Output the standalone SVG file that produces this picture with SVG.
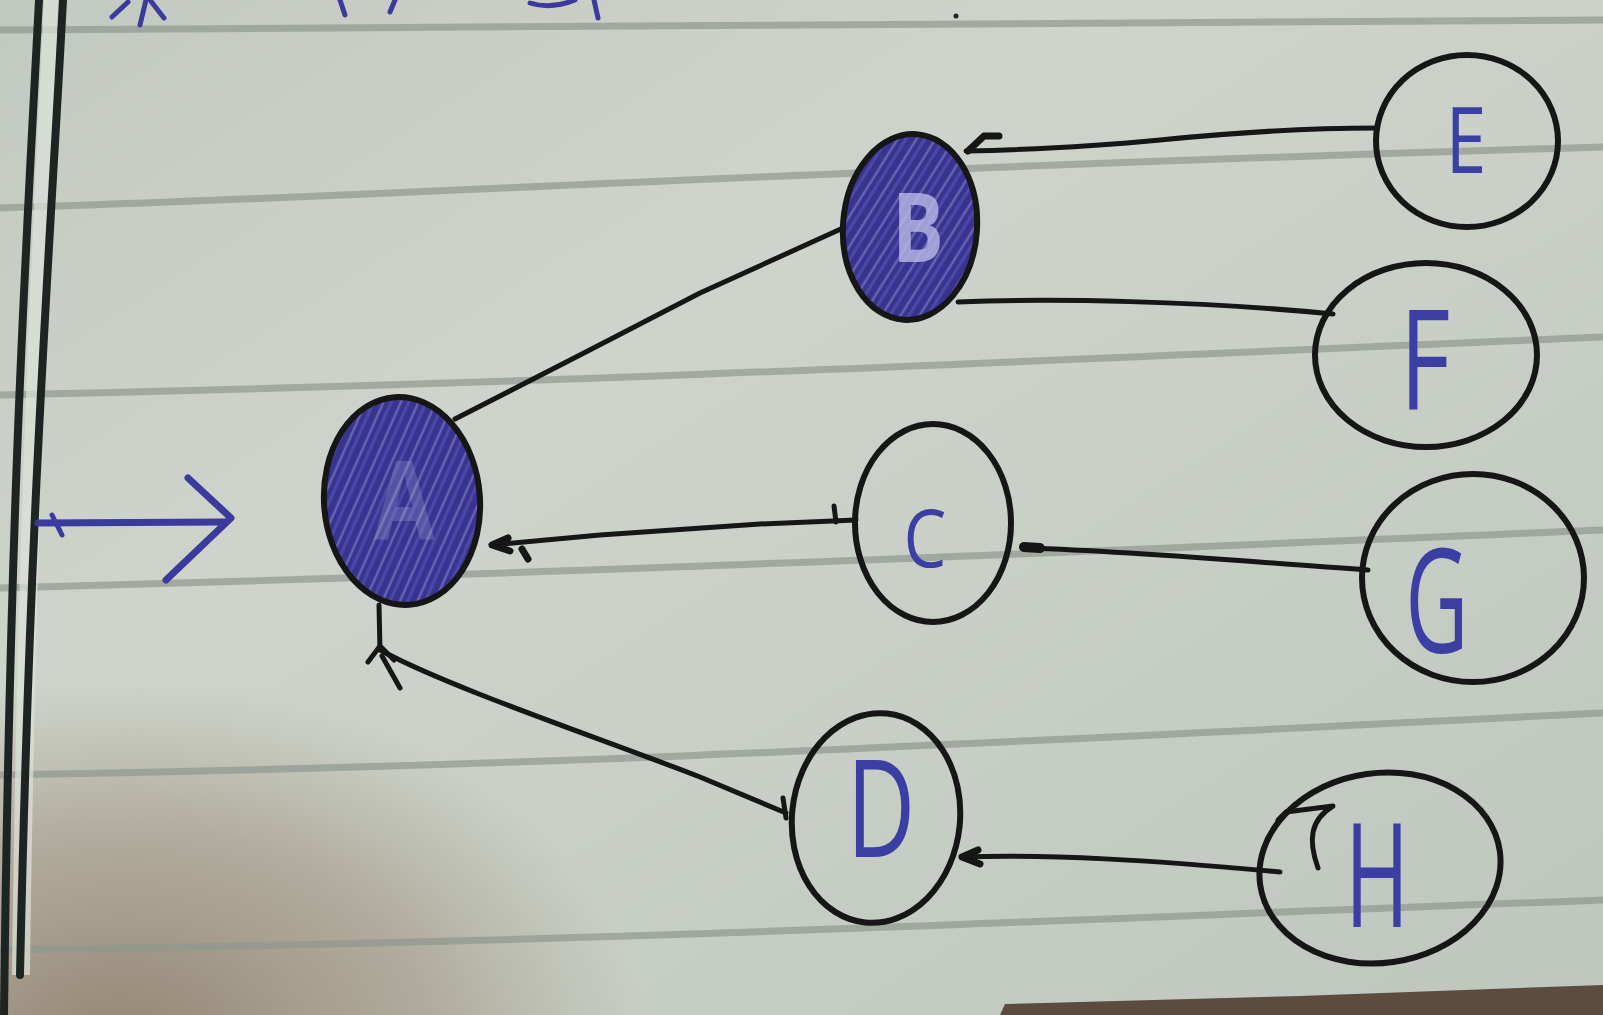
<svg xmlns="http://www.w3.org/2000/svg" width="1603" height="1015" viewBox="0 0 1603 1015">
  <defs>
    <linearGradient id="paper" x1="0" y1="0" x2="1" y2="1">
      <stop offset="0" stop-color="#c2c9c0"/>
      <stop offset="0.35" stop-color="#ced4cb"/>
      <stop offset="0.7" stop-color="#c6cdc4"/>
      <stop offset="1" stop-color="#bfc6bd"/>
    </linearGradient>
    <radialGradient id="shadow" cx="0.5" cy="0.5" r="0.5">
      <stop offset="0" stop-color="#7d6650" stop-opacity="0.7"/>
      <stop offset="0.6" stop-color="#8c7660" stop-opacity="0.4"/>
      <stop offset="1" stop-color="#9a8670" stop-opacity="0"/>
    </radialGradient>
    <pattern id="hatch" width="16" height="16" patternUnits="userSpaceOnUse" patternTransform="rotate(-62)">
      <rect width="16" height="16" fill="#37338f"/>
      <line x1="0" y1="5" x2="16" y2="5" stroke="#8d8ad0" stroke-width="2.5" opacity="0.55"/>
      <line x1="0" y1="12" x2="16" y2="12" stroke="#5c58b6" stroke-width="3" opacity="0.6"/>
    </pattern>
    <style>
      .rule { fill: none; stroke: #8e978f; stroke-width: 7; opacity: 0.7; }
      .margin { fill: none; stroke: #1c2522; stroke-width: 8; stroke-linecap: round; }
      .node { fill: none; stroke: #161616; stroke-width: 6; }
      .filled { fill: url(#hatch); stroke: #161616; stroke-width: 6; }
      .edge { fill: none; stroke: #161616; stroke-width: 5; stroke-linecap: round; stroke-linejoin: round; }
      .pen { fill: none; stroke: #3a3b9c; stroke-width: 7; stroke-linecap: round; stroke-linejoin: round; }
      .lbl { font-family: "Open Sans", "Liberation Sans", sans-serif; font-weight: 400; fill: #3b3fa3; text-anchor: middle; }
      .pale { font-family: "Open Sans", "Liberation Sans", sans-serif; font-weight: 700; fill: #c3c2ec; text-anchor: middle; }
    </style>
  </defs>

  <!-- paper -->
  <rect x="0" y="0" width="1603" height="1015" fill="url(#paper)"/>
  <ellipse cx="120" cy="1040" rx="520" ry="360" fill="url(#shadow)"/>
  <path d="M1000,1015 L1005,1004 L1300,996 L1603,985 L1603,1015 Z" fill="#5c4c3e"/>

  <!-- ruled lines -->
  <g id="rules">
    <path class="rule" d="M0,30 L1603,20"/>
    <path class="rule" d="M0,208 C400,196 800,170 1603,147"/>
    <path class="rule" d="M0,395 C600,382 1000,362 1603,337"/>
    <path class="rule" d="M0,588 C600,572 1000,555 1603,530"/>
    <path class="rule" d="M0,775 C600,765 1000,742 1603,713"/>
    <path class="rule" d="M0,950 C600,942 1000,922 1603,900"/>
  </g>

  <!-- margin -->
  <g id="margin">
    <path d="M44,0 C32,250 18,500 12,975 L30,975 C36,500 50,250 58,0 Z" fill="#dde2da" opacity="0.7"/>
    <path class="margin" d="M39,0 C26,250 10,500 4,1015"/>
    <path class="margin" d="M63,0 C50,250 30,500 20,975"/>
  </g>

  <!-- fragments from the line above -->
  <g id="fragments" class="pen" style="stroke-width:5">
    <path d="M112,17 L128,2"/>
    <path d="M140,25 L146,0"/>
    <path d="M150,0 L164,18"/>
    <path d="M345,15 L340,0"/>
    <path d="M390,12 L395,0"/>
    <path d="M530,3 C545,8 560,6 575,0"/>
    <path d="M598,18 L594,0"/>
  </g>
  <circle cx="956" cy="16" r="2.5" fill="#222"/>

  <!-- connectors -->
  <g id="connectors">
    <!-- entry arrow -->
    <path class="pen" d="M38,523 L226,522"/>
    <path class="pen" d="M188,478 L231,518 L166,580"/>
    <path class="pen" style="stroke-width:5" d="M52,515 L62,535"/>
    <!-- A - B -->
    <path class="edge" d="M455,419 L580,355 L700,293 L843,228"/>
    <!-- B - E -->
    <path class="edge" d="M966,151 C1050,149 1100,146 1160,140 S1300,128 1377,128"/>
    <path class="edge" style="stroke-width:7" d="M968,151 L984,136 L999,136"/>
    <!-- B - F -->
    <path class="edge" d="M958,302 C1050,298 1200,301 1333,314"/>
    <!-- C - A -->
    <path class="edge" d="M856,520 L760,524 L600,535 L492,545"/>
    <path class="edge" d="M834,506 L836,522"/>
    <path class="edge" style="stroke-width:7" d="M508,538 L492,545 L510,551 M522,549 L528,559"/>
    <!-- C - G -->
    <path class="edge" d="M1026,548 C1150,552 1250,562 1368,570"/>
    <path class="edge" style="stroke-width:10" d="M1024,547 L1040,548"/>
    <!-- A - D -->
    <path class="edge" d="M379,605 L380,650 C450,688 600,738 700,777 L786,813"/>
    <path class="edge" d="M368,662 L380,646 L394,660 M382,656 L400,688"/>
    <path class="edge" d="M783,798 L786,818"/>
    <!-- D - H -->
    <path class="edge" d="M962,857 C1050,854 1150,860 1280,872"/>
    <path class="edge" style="stroke-width:7" d="M978,850 L962,857 L980,864"/>
    <path class="edge" d="M1278,820 L1286,812 L1333,806 C1310,820 1308,840 1318,868"/>
  </g>

  <!-- nodes -->
  <g id="node-A">
    <ellipse class="filled" cx="402" cy="501" rx="78" ry="104" transform="rotate(-4 402 501)"/>
    <text class="pale" x="0" y="0" font-size="110" opacity="0.22" transform="translate(404,540) scale(0.8,1)">A</text>
  </g>
  <g id="node-B">
    <ellipse class="filled" cx="910" cy="227" rx="67" ry="93" transform="rotate(4 910 227)"/>
    <text class="pale" x="0" y="0" font-size="96" opacity="0.75" transform="translate(918,262) scale(0.8,1)">B</text>
  </g>
  <g id="node-C">
    <ellipse class="node" cx="933" cy="523" rx="78" ry="99"/>
    <text class="lbl" x="0" y="0" font-size="80" transform="translate(925,567) scale(0.85,1)">C</text>
  </g>
  <g id="node-D">
    <ellipse class="node" cx="876" cy="818" rx="84" ry="105" transform="rotate(6 876 818)"/>
    <text class="lbl" x="0" y="0" font-size="135" transform="translate(881,857) scale(0.7,1)">D</text>
  </g>
  <g id="node-E">
    <ellipse class="node" cx="1467" cy="141" rx="91" ry="86"/>
    <text class="lbl" x="0" y="0" font-size="92" transform="translate(1466,173) scale(0.8,1)">E</text>
  </g>
  <g id="node-F">
    <ellipse class="node" cx="1426" cy="355" rx="111" ry="92"/>
    <text class="lbl" x="0" y="0" font-size="140" transform="translate(1425,410) scale(0.7,1)">F</text>
  </g>
  <g id="node-G">
    <ellipse class="node" cx="1473" cy="578" rx="111" ry="104"/>
    <text class="lbl" x="0" y="0" font-size="145" transform="translate(1437,653) scale(0.6,1)">G</text>
  </g>
  <g id="node-H">
    <ellipse class="node" cx="1380" cy="868" rx="121" ry="95" transform="rotate(-8 1380 868)"/>
    <text class="lbl" x="0" y="0" font-size="145" transform="translate(1377,927) scale(0.6,1)">H</text>
  </g>
</svg>
